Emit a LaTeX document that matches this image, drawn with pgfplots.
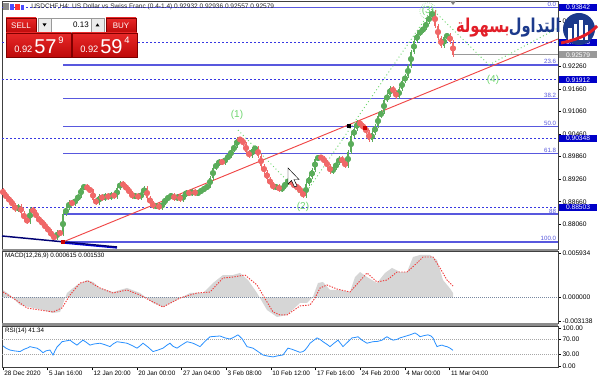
\documentclass[border=0pt]{standalone}
\usepackage{fontspec}
\setmainfont{Liberation Sans}
\newfontfamily\arabicfont[Script=Arabic]{DejaVu Sans}
\usepackage{pgfplots}
\pgfplotsset{compat=1.18}
\usepackage{pgfplotstable}
\TeXXeTstate=1
\definecolor{candup}{RGB}{90,172,90}
\definecolor{canddn}{RGB}{240,104,104}
\definecolor{fibblue}{RGB}{88,88,222}
\definecolor{dashblue}{RGB}{56,56,226}
\definecolor{boxblue}{RGB}{0,0,200}
\definecolor{wavegreen}{RGB}{110,214,110}
\definecolor{trendred}{RGB}{240,70,70}
\definecolor{macdgray}{RGB}{214,214,214}
\definecolor{sigred}{RGB}{240,60,60}
\definecolor{rsiblue}{RGB}{40,144,255}
\definecolor{zeroslate}{RGB}{120,136,160}
\definecolor{logoblue}{RGB}{28,58,140}
\definecolor{logored}{RGB}{226,30,40}
\definecolor{btnred}{RGB}{190,10,10}
\definecolor{btnred2}{RGB}{232,40,40}

\pgfplotstableread{
x o c
3 0.88972 0.88866
6 0.88866 0.88759
9 0.88759 0.88679
12 0.88679 0.88572
15 0.88572 0.88439
18 0.88439 0.88546
21 0.88546 0.88359
24 0.88359 0.88199
27 0.88199 0.88119
30 0.88119 0.88466
33 0.88466 0.88386
36 0.88386 0.88226
39 0.88226 0.88146
42 0.88146 0.88066
45 0.88066 0.87959
48 0.87959 0.87879
51 0.87879 0.87746
54 0.87746 0.87692
57 0.87692 0.87852
60 0.87852 0.87799
63 0.87799 0.88332
66 0.88332 0.88492
69 0.88492 0.88652
72 0.88652 0.88599
75 0.88599 0.88732
78 0.88732 0.88812
81 0.88812 0.89026
84 0.89026 0.89079
87 0.89079 0.88999
90 0.88999 0.88946
93 0.88946 0.88706
96 0.88706 0.88626
99 0.88626 0.88812
102 0.88812 0.88732
105 0.88732 0.88839
108 0.88839 0.88759
111 0.88759 0.88866
114 0.88866 0.88786
117 0.88786 0.89026
120 0.89026 0.89159
123 0.89159 0.89079
126 0.89079 0.88999
129 0.88999 0.88892
132 0.88892 0.88786
135 0.88786 0.88839
138 0.88839 0.88759
141 0.88759 0.88892
144 0.88892 0.89026
147 0.89026 0.88759
150 0.88759 0.88626
153 0.88626 0.88519
156 0.88519 0.88572
159 0.88572 0.88492
162 0.88492 0.88626
165 0.88626 0.88732
168 0.88732 0.88786
171 0.88786 0.88839
174 0.88839 0.88732
177 0.88732 0.88812
180 0.88812 0.88706
183 0.88706 0.88839
186 0.88839 0.88919
189 0.88919 0.88866
192 0.88866 0.88946
195 0.88946 0.88866
198 0.88866 0.88919
201 0.88919 0.88972
204 0.88972 0.89026
207 0.89026 0.89079
210 0.89079 0.89292
213 0.89292 0.89559
216 0.89559 0.89666
219 0.89666 0.89746
222 0.89746 0.89692
225 0.89692 0.89826
228 0.89826 0.89879
231 0.89879 0.90039
234 0.90039 0.90146
237 0.90146 0.90332
240 0.90332 0.90306
243 0.90306 0.90199
246 0.90199 0.89986
249 0.89986 0.89879
252 0.89879 0.90066
255 0.90066 0.90092
258 0.90092 0.89879
261 0.89879 0.89612
264 0.89612 0.89452
267 0.89452 0.89266
270 0.89266 0.89132
273 0.89132 0.89026
276 0.89026 0.89079
279 0.89079 0.88972
282 0.88972 0.89052
285 0.89052 0.89159
288 0.89159 0.89239
291 0.89239 0.89132
294 0.89132 0.89079
297 0.89079 0.89026
300 0.89026 0.88919
303 0.88919 0.88812
306 0.88812 0.89132
309 0.89132 0.89319
312 0.89319 0.89506
315 0.89506 0.89799
318 0.89799 0.89852
321 0.89852 0.89826
324 0.89826 0.89719
327 0.89719 0.89612
330 0.89612 0.89452
333 0.89452 0.89559
336 0.89559 0.89692
339 0.89692 0.89826
342 0.89826 0.89719
345 0.89719 0.89612
348 0.89612 0.89986
351 0.89986 0.90412
354 0.90412 0.90599
357 0.90599 0.90786
360 0.90786 0.90706
363 0.90706 0.90626
366 0.90626 0.90519
369 0.90519 0.90306
372 0.90306 0.90492
375 0.90492 0.90679
378 0.90679 0.90946
381 0.90946 0.91052
384 0.91052 0.91372
387 0.91372 0.91506
390 0.91506 0.91692
393 0.91692 0.91586
396 0.91586 0.91452
399 0.91452 0.91666
402 0.91666 0.91879
405 0.91879 0.92012
408 0.92012 0.92279
411 0.92279 0.92652
414 0.92652 0.92946
417 0.92946 0.93132
420 0.93132 0.93212
423 0.93212 0.93292
426 0.93292 0.93452
429 0.93452 0.93612
432 0.93612 0.93719
435 0.93719 0.93346
438 0.93346 0.93026
441 0.93026 0.92812
444 0.92812 0.93052
447 0.93052 0.93106
450 0.93106 0.92919
453 0.92919 0.92579
}\candles

\pgfplotsset{mt/.style={scale only axis, width=417pt, xmin=2, xmax=558,
  axis line style={black!75, line width=0.5pt}, xtick=\empty,
  scaled y ticks=false, scaled x ticks=false,
  ytick pos=right, yticklabel pos=right, tick align=outside,
  major tick length=2.2pt, tick style={black, line width=0.4pt},
  yticklabel style={font=\fontsize{5}{6}\selectfont, inner sep=1pt},
  clip=false}}

\begin{document}
\begin{tikzpicture}
\fill[white] (0,0) rectangle (450pt,-288pt);
\useasboundingbox (0,0) rectangle (450pt,-288pt);

% ---------------- main price panel ----------------
\begin{axis}[mt, at={(1.5pt,-0.75pt)}, anchor=north west, height=186pt,
  ymin=0.87399, ymax=0.94012,
  ytick={0.88060,0.88660,0.89260,0.89860,0.90460,0.91060,0.91660,0.92260,0.93460},
  yticklabels={0.88060,0.88660,0.89260,0.89860,0.90460,0.91060,0.91660,0.92260,0.93460}]
% dashed price levels
\addplot[dashblue, line width=0.6pt, dash pattern=on 1.5pt off 1.5pt, forget plot] coordinates {(2,0.93842) (558,0.93842)};
\addplot[dashblue, line width=0.6pt, dash pattern=on 1.5pt off 1.5pt, forget plot] coordinates {(2,0.92913) (558,0.92913)};
\addplot[dashblue, line width=0.6pt, dash pattern=on 1.5pt off 1.5pt, forget plot] coordinates {(2,0.91912) (558,0.91912)};
\addplot[dashblue, line width=0.6pt, dash pattern=on 1.5pt off 1.5pt, forget plot] coordinates {(2,0.90348) (558,0.90348)};
\addplot[dashblue, line width=0.6pt, dash pattern=on 1.5pt off 1.5pt, forget plot] coordinates {(2,0.88503) (558,0.88503)};
% fibonacci levels
\addplot[fibblue, line width=0.8pt, forget plot] coordinates {(63,0.93842) (558,0.93842)};
\addplot[fibblue, line width=0.8pt, forget plot] coordinates {(63,0.92306) (558,0.92306)};
\addplot[fibblue, line width=0.8pt, forget plot] coordinates {(63,0.91412) (558,0.91412)};
\addplot[fibblue, line width=0.8pt, forget plot] coordinates {(63,0.90665) (558,0.90665)};
\addplot[fibblue, line width=0.8pt, forget plot] coordinates {(63,0.89945) (558,0.89945)};
\addplot[fibblue, line width=0.8pt, forget plot] coordinates {(63,0.88332) (558,0.88332)};
\addplot[fibblue, line width=0.8pt, forget plot] coordinates {(63,0.87586) (558,0.87586)};
% current price line
\addplot[black!40, line width=0.4pt, forget plot] coordinates {(453,0.92579) (558,0.92579)};
% bottom-left trend lines
\addplot[blue!85!black, line width=1pt, forget plot] coordinates {(63,0.87559) (117,0.87426)};
\addplot[blue!45!black, line width=1.1pt, forget plot] coordinates {(2,0.87746) (117,0.87452)};
% red trend line
\addplot[trendred, line width=0.7pt, forget plot] coordinates {(63,0.87586) (558,0.93000)};
% wave connectors
\addplot[wavegreen, dotted, line width=0.7pt, forget plot] coordinates {(238,0.90572) (303,0.88786)};
\addplot[wavegreen, dotted, line width=0.7pt, forget plot] coordinates {(303,0.88786) (432,0.93799)};
\addplot[wavegreen, dotted, line width=0.7pt, forget plot] coordinates {(432,0.93799) (489,0.92306)};
\addplot[wavegreen, dotted, line width=0.7pt, forget plot] coordinates {(489,0.92306) (558,0.93292)};
% candles: wicks
\addplot[candup, only marks, mark=none, forget plot,
  restrict expr to domain={\thisrow{c}-\thisrow{o}}{0:1},
  error bars/.cd, y dir=both, y explicit, error mark=none,
  error bar style={line width=0.45pt, candup}]
  table[x=x, y expr={(\thisrow{o}+\thisrow{c})/2}, y error expr={abs(\thisrow{c}-\thisrow{o})/2+0.0006}] {\candles};
\addplot[canddn, only marks, mark=none, forget plot,
  restrict expr to domain={\thisrow{c}-\thisrow{o}}{-1:0},
  error bars/.cd, y dir=both, y explicit, error mark=none,
  error bar style={line width=0.45pt, canddn}]
  table[x=x, y expr={(\thisrow{o}+\thisrow{c})/2}, y error expr={abs(\thisrow{c}-\thisrow{o})/2+0.0006}] {\candles};
% candles: bodies
\addplot[candup, only marks, mark=none, forget plot,
  restrict expr to domain={\thisrow{c}-\thisrow{o}}{0:1},
  error bars/.cd, y dir=both, y explicit, error mark=none,
  error bar style={line width=1.3pt, candup}]
  table[x=x, y expr={(\thisrow{o}+\thisrow{c})/2}, y error expr={max(abs(\thisrow{c}-\thisrow{o})/2,0.00006)}] {\candles};
\addplot[canddn, only marks, mark=none, forget plot,
  restrict expr to domain={\thisrow{c}-\thisrow{o}}{-1:0},
  error bars/.cd, y dir=both, y explicit, error mark=none,
  error bar style={line width=1.3pt, canddn}]
  table[x=x, y expr={(\thisrow{o}+\thisrow{c})/2}, y error expr={max(abs(\thisrow{c}-\thisrow{o})/2,0.00006)}] {\candles};
% small anchor markers
\addplot[only marks, mark=square*, mark size=1.2pt, red!80!black, forget plot] coordinates {(63,0.87586)};
\addplot[only marks, mark=square*, mark size=1.2pt, black, forget plot] coordinates {(349,0.90679)};
\addplot[only marks, mark=square*, mark size=1pt, red!80!black, forget plot] coordinates {(365,0.90626)};
% fib labels
\node[anchor=south east, inner sep=0.5pt, text=fibblue, font=\fontsize{4.6}{5}\selectfont] at (axis cs:557,0.93842) {0.0};
\node[anchor=south east, inner sep=0.5pt, text=fibblue, font=\fontsize{4.6}{5}\selectfont] at (axis cs:557,0.92306) {23.6};
\node[anchor=south east, inner sep=0.5pt, text=fibblue, font=\fontsize{4.6}{5}\selectfont] at (axis cs:557,0.91412) {38.2};
\node[anchor=south east, inner sep=0.5pt, text=fibblue, font=\fontsize{4.6}{5}\selectfont] at (axis cs:557,0.90665) {50.0};
\node[anchor=south east, inner sep=0.5pt, text=fibblue, font=\fontsize{4.6}{5}\selectfont] at (axis cs:557,0.89945) {61.8};
\node[anchor=south east, inner sep=0.5pt, text=fibblue, font=\fontsize{4.6}{5}\selectfont] at (axis cs:557,0.88332) {88};
\node[anchor=south east, inner sep=0.5pt, text=fibblue, font=\fontsize{4.6}{5}\selectfont] at (axis cs:557,0.87586) {100.0};
% wave labels
\node[text=wavegreen, font=\fontsize{7.5}{8}\selectfont] at (axis cs:237,0.90972) {(1)};
\node[text=wavegreen, font=\fontsize{7.5}{8}\selectfont] at (axis cs:303,0.88519) {(2)};
\node[text=wavegreen, draw=wavegreen, densely dotted, circle, inner sep=0.3pt, font=\fontsize{7.5}{8}\selectfont] at (axis cs:428,0.93745) {(3)};
\node[text=wavegreen, font=\fontsize{7.5}{8}\selectfont] at (axis cs:493,0.91906) {(4)};
\coordinate (B1) at (axis cs:558,0.93842);
\coordinate (B2) at (axis cs:558,0.92913);
\coordinate (B3) at (axis cs:558,0.92579);
\coordinate (B4) at (axis cs:558,0.91912);
\coordinate (B5) at (axis cs:558,0.90348);
\coordinate (B6) at (axis cs:558,0.88503);
\end{axis}

% ---------------- MACD panel ----------------
\begin{axis}[mt, at={(1.5pt,-188.25pt)}, anchor=north west, height=54pt,
  ymin=-0.003402, ymax=0.006203,
  ytick={-0.003138,0,0.005934}, yticklabels={-0.003138,0.000000,0.005934}]
\addplot[fill=macdgray, draw=none, forget plot] coordinates {
(3,0.0010) (10,0.00033) (20,-0.0010) (33,-0.0014) (43,-0.00167) (53,-0.00207) (60,-0.00193) (67,0.0006) (77,0.00167) (87,0.00233) (93,0.00207) (100,0.00127) (113,0.00073) (127,0.00127) (140,0.0006) (147,-0.0001) (153,-0.00073) (163,-0.00127) (177,-0.00033) (190,0.0006) (203,0.0006) (213,0.00193) (223,0.0030) (233,0.0030) (240,0.00327) (248,0.00233) (257,0.0006) (267,-0.00167) (277,-0.0026) (287,-0.00233) (300,-0.00073) (307,-0.00073) (313,0.0001) (318,0.00193) (323,0.00207) (330,0.0010) (340,0.0010) (350,0.00073) (355,0.00273) (360,0.0034) (367,0.00273) (377,0.00193) (385,0.00327) (392,0.00394) (400,0.0034) (407,0.0034) (413,0.0054) (420,0.00567) (430,0.00567) (437,0.0050) (443,0.00233) (450,0.0012) (453,0.000615)
} \closedcycle;
\addplot[zeroslate, densely dotted, line width=0.5pt, forget plot] coordinates {(2,0) (558,0)};
\addplot[sigred, dash pattern=on 1pt off 1pt, line width=0.7pt, forget plot] coordinates {
(3,0.00073) (13,-0.00007) (27,-0.0014) (40,-0.00167) (53,-0.00193) (62,-0.0014) (70,0.00033) (80,0.00193) (88,0.0022) (100,0.00127) (113,0.0006) (127,0.0010) (140,0.00033) (153,-0.0006) (163,-0.00127) (180,-0.00007) (197,0.0006) (210,0.00073) (223,0.0026) (233,0.00273) (245,0.0030) (257,0.00167) (267,-0.0006) (273,-0.00193) (280,-0.00233) (287,-0.00233) (300,-0.00113) (310,-0.0010) (315,-0.00007) (320,0.00127) (327,0.00167) (337,0.00113) (350,0.00073) (358,0.00193) (367,0.00327) (377,0.00207) (387,0.00233) (397,0.0034) (407,0.0034) (417,0.0046) (423,0.0054) (433,0.0054) (440,0.00394) (447,0.00233) (453,0.00153)
};
\node[anchor=north west, inner sep=0.5pt, font=\fontsize{4.7}{5}\selectfont] at (rel axis cs:0.004,0.985) {MACD(12,26,9) 0.000615 0.001530};
\end{axis}

% ---------------- RSI panel ----------------
\begin{axis}[mt, at={(1.5pt,-244.5pt)}, anchor=north west, height=31.125pt,
  ymin=-3.9, ymax=105.3,
  ytick={0,30,70,100}, yticklabels={0.00,30.00,70.00,100.00},
  xtick={3,47.7,92.3,137,181.7,226.3,271,315.7,360.3,405,449.7},
  xticklabels={28 Dec 2020,5 Jan 16:00,12 Jan 20:00,20 Jan 00:00,27 Jan 04:00,3 Feb 08:00,10 Feb 12:00,17 Feb 16:00,24 Feb 20:00,4 Mar 00:00,11 Mar 04:00},
  xtick pos=bottom,
  xticklabel style={anchor=north west, inner sep=0.5pt, xshift=0.3pt, yshift=0.3pt, font=\fontsize{4.8}{5}\selectfont}]
\addplot[black!35, densely dotted, line width=0.5pt, forget plot] coordinates {(2,70) (558,70)};
\addplot[black!35, densely dotted, line width=0.5pt, forget plot] coordinates {(2,30) (558,30)};
\addplot[rsiblue, line width=0.6pt, forget plot] coordinates {
(3,53) (6,47) (10,42) (14,40) (20,38) (24,44) (28,48) (30,51) (33,49) (37,47) (40,42) (43,35) (46,40) (50,42) (53,29) (55,40) (57,50) (60,58) (62,64) (66,66) (70,68) (73,62) (77,55) (80,62) (83,68) (86,63) (90,55) (94,58) (100,60) (105,56) (110,51) (113,58) (117,64) (122,62) (127,60) (132,54) (137,47) (140,53) (143,60) (148,50) (153,38) (158,42) (163,47) (167,55) (170,60) (173,52) (177,47) (182,56) (187,64) (190,62) (193,60) (197,55) (200,51) (205,65) (210,77) (215,78) (220,79) (225,74) (230,71) (234,76) (238,82) (242,72) (247,51) (250,49) (253,47) (258,38) (263,29) (268,26) (273,24) (278,27) (283,29) (286,40) (288,47) (292,44) (296,40) (300,36) (303,38) (305,42) (308,52) (310,60) (314,68) (317,74) (320,70) (323,64) (327,57) (330,51) (334,60) (338,68) (341,58) (343,51) (348,64) (352,74) (355,75) (358,77) (362,68) (367,60) (370,62) (373,64) (378,65) (382,68) (385,74) (387,77) (390,72) (393,68) (397,70) (400,74) (405,78) (410,82) (413,85) (415,87) (418,82) (420,77) (424,80) (428,82) (431,79) (433,74) (435,62) (437,51) (440,54) (442,55) (445,52) (447,51) (450,47) (453,41.34)
};
\node[anchor=north west, inner sep=0.5pt, font=\fontsize{4.7}{5}\selectfont] at (rel axis cs:0.004,0.97) {RSI(14) 41.34};
\end{axis}

% ---------------- price label boxes ----------------
\tikzset{pbox/.style={anchor=west, fill=boxblue, text=white, inner xsep=1.2pt, inner ysep=0.9pt, minimum width=28.5pt, font=\fontsize{5}{6}\selectfont, xshift=0.6pt}}
\node[pbox] at (B1) {0.93842};
\node[pbox] at (B2) {0.92913};
\node[pbox, fill=black!40] at (B3) {0.92579};
\node[pbox] at (B4) {0.91912};
\node[pbox] at (B5) {0.90348};
\node[pbox] at (B6) {0.88503};

% ---------------- decorations in pixel units ----------------
\begin{scope}[x=0.75pt, y=-0.75pt]
% panel separators
\fill[black!45] (2,248.6) rectangle (558,251);
\fill[black!45] (2,322.8) rectangle (558,325.6);
% title
\fill[black!45] (3,3) rectangle (9,10);
\fill[blue!70] (10,4) rectangle (14,10);
\fill[red!80] (15,4) rectangle (20,10);
\fill[blue!70] (21,5) rectangle (24,10);
\node[anchor=west, inner sep=0, font=\fontsize{4.9}{5}\selectfont, text=black!85] at (31,6.6) {USDCHF,H4: US Dollar vs Swiss Franc (0.4-1.4) 0.92932 0.92936 0.92557 0.92579};
\fill[black!50] (450,1) -- (456,1) -- (453,5) -- cycle;
% trading panel
\shade[top color=btnred2, bottom color=btnred, draw=red!50!black] (6,18) rectangle (36,33);
\node[text=white, font=\fontsize{6}{7}\selectfont] at (21,25.5) {SELL};
\shade[top color=btnred2, bottom color=btnred, draw=red!50!black] (106,18) rectangle (136,33);
\node[text=white, font=\fontsize{6}{7}\selectfont] at (121,25.5) {BUY};
\filldraw[fill=white, draw=black!40] (38,18) rectangle (104,32);
\filldraw[fill=black!8, draw=black!40] (38,18) rectangle (51,32);
\filldraw[fill=black!8, draw=black!40] (91,18) rectangle (104,32);
\fill[black] (42.5,23.5) -- (46.5,23.5) -- (44.5,26.5) -- cycle;
\fill[black] (95.5,26.5) -- (99.5,26.5) -- (97.5,23.5) -- cycle;
\node[anchor=east, inner sep=0, font=\fontsize{6}{7}\selectfont] at (89,25) {0.13};
\shade[top color=btnred2, bottom color=btnred, draw=red!50!black] (6,33) rectangle (71,57);
\shade[top color=btnred2, bottom color=btnred, draw=red!50!black] (72,33) rectangle (137,57);
\node[anchor=base west, inner sep=0, text=white, font=\fontsize{7}{8}\selectfont] at (14,53) {0.92};
\node[anchor=base west, inner sep=0, text=white, font=\fontsize{15}{16}\selectfont] at (34,54) {57};
\node[anchor=base west, inner sep=0, text=white, font=\fontsize{7}{8}\selectfont] at (58,44) {9};
\node[anchor=base west, inner sep=0, text=white, font=\fontsize{7}{8}\selectfont] at (80,53) {0.92};
\node[anchor=base west, inner sep=0, text=white, font=\fontsize{15}{16}\selectfont] at (100,54) {59};
\node[anchor=base west, inner sep=0, text=white, font=\fontsize{7}{8}\selectfont] at (124,44) {4};
% mouse cursor
\filldraw[fill=white, draw=black, line width=0.35pt] (288,168) -- (288,184) -- (291.5,180.5) -- (294.5,187) -- (297,186) -- (294,179.5) -- (299,179.5) -- cycle;
% logo
\node[anchor=east, inner sep=0, text=logoblue, yscale=1.3] at (561,28) {\arabicfont\bfseries\fontsize{11}{12}\selectfont\beginR التداول\endR};
\node[anchor=east, inner sep=0, text=logored, yscale=1.3] at (510,28) {\arabicfont\bfseries\fontsize{11}{12}\selectfont\beginR بسهولة\endR};
\fill[logoblue] (579,29) circle (16);
\fill[white] (568,40) rectangle (571.5,28);
\fill[white] (573.5,40) rectangle (577,24);
\fill[white] (579,40) rectangle (582.5,20);
\fill[white] (584.5,40) rectangle (588,25);
\draw[logored, line width=2.2pt] (561,43) .. controls (575,40) and (588,36) .. (597,26);
\end{scope}
\end{tikzpicture}
\end{document}
